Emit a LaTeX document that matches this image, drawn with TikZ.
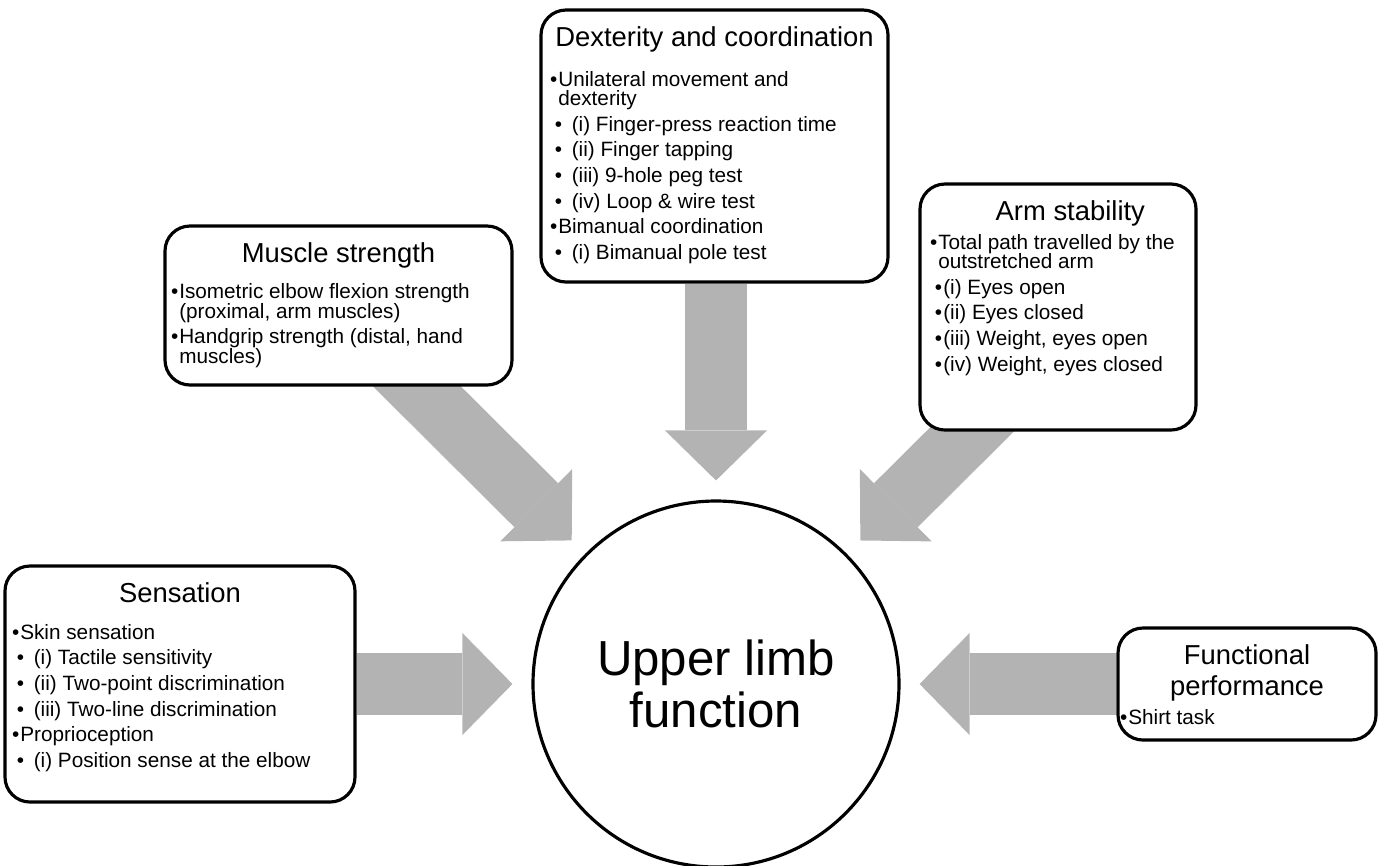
\documentclass[tikz,border=0pt]{standalone}
\usepackage{fontspec}
\setmainfont{Liberation Sans}
\usetikzlibrary{arrows.meta,calc,backgrounds}
\definecolor{ulGray}{HTML}{B3B3B3}

\newcommand{\ttl}[2][2.6pt]{{\centering\fontsize{7.8}{8.8}\selectfont #2\par}\vspace{#1}}
\newcommand{\bodyset}[1]{\fontsize{5.9}{5.5}\selectfont\lineskiplimit=-10pt\parskip=1.8pt\parindent=0pt\rightskip=#1 plus 1fil}
\newcommand{\bulA}[1]{\par\hangindent=0.4em\hangafter=1\makebox[0.4em][l]{\textbullet}#1\par}
\newcommand{\bulB}[1]{\par\hspace*{0.24em}\makebox[0.81em][l]{\textbullet}#1\par}
\newcommand{\bulC}[1]{\par\hspace*{0.24em}\makebox[0.4em][l]{\textbullet}#1\par}
\newcommand{\panelbody}[4]{\parbox[c][#2][t]{#1}{\bodyset{#3}#4}}

\begin{document}
\begin{tikzpicture}[
    testbox/.style={rectangle, rounded corners=0.25cm, draw, line width=0.9pt, fill=white, inner ysep=0.17cm},
    hub/.style={circle, draw, line width=0.9pt, fill=white, minimum size=3.66cm, inner sep=0pt, align=center,
      font=\fontsize{14}{15}\selectfont},
    bigarrow/.style={draw=ulGray, line width=0.62cm, shorten >=0.19cm,
      -{Triangle[length=0.50cm, width=1.02cm, line width=0pt]}}]
  \useasboundingbox (0,0) rectangle (13.83,-8.65);

  \node[hub] (ulf) at (7.16,-6.84) {Upper limb\\function};

  \node[testbox, inner xsep=0.09cm] (dex) at (7.145,-1.46) {\panelbody{3.29cm}{2.38cm}{0.26cm}{%
    \ttl[3.9pt]{Dexterity and coordination}
    \bulA{Unilateral movement and dexterity}
    \bulB{(i) Finger-press reaction time}
    \bulB{(ii) Finger tapping}
    \bulB{(iii) 9-hole peg test}
    \bulB{(iv) Loop \& wire test}
    \bulA{Bimanual coordination}
    \bulB{(i) Bimanual pole test}}};

  \node[testbox, inner xsep=0.06cm] (mus) at (3.385,-3.055) {\panelbody{3.35cm}{1.25cm}{0.18cm}{%
    \ttl[2.9pt]{Muscle strength}
    \bulA{Isometric elbow flexion strength (proximal, arm muscles)}
    \bulA{Handgrip strength (distal, hand muscles)}}};

  \node[testbox, inner xsep=0.10cm] (arm) at (10.58,-3.07) {\panelbody{2.56cm}{2.12cm}{0cm}{%
    \ttl[0.8pt]{\hspace*{7pt}Arm stability}
    \bulA{Total path travelled by the outstretched arm}
    \bulC{(i) Eyes open}
    \bulC{(ii) Eyes closed}
    \bulC{(iii) Weight, eyes open}
    \bulC{(iv) Weight, eyes closed}}};

  \node[testbox, inner xsep=0.07cm] (sen) at (1.80,-6.84) {\panelbody{3.36cm}{2.02cm}{0cm}{%
    \ttl[3.0pt]{Sensation}
    \bulA{Skin sensation}
    \bulB{(i) Tactile sensitivity}
    \bulB{(ii) Two-point discrimination}
    \bulB{(iii) Two-line discrimination}
    \bulA{Proprioception}
    \bulB{(i) Position sense at the elbow}}};

  \node[testbox, inner xsep=0.02cm] (fun) at (12.47,-6.84) {\panelbody{2.54cm}{0.78cm}{0cm}{%
    \ttl[0.9pt]{Functional\\performance}
    \bulA{Shirt task}}};

  \coordinate (dexfoot) at (dex.south -| ulf);
  \coordinate (musfoot) at ($(mus.south)+(0.535,0.25)$);
  \coordinate (armfoot) at ($(arm.south)+(-0.63,0.25)$);
  \coordinate (senfoot) at (sen.east |- ulf);
  \coordinate (funfoot) at (fun.west |- ulf);
  \begin{scope}[on background layer]
    \foreach \s in {dexfoot,musfoot,armfoot,senfoot,funfoot}
      \draw[bigarrow] (\s) -- (ulf);
  \end{scope}
\end{tikzpicture}
\end{document}
